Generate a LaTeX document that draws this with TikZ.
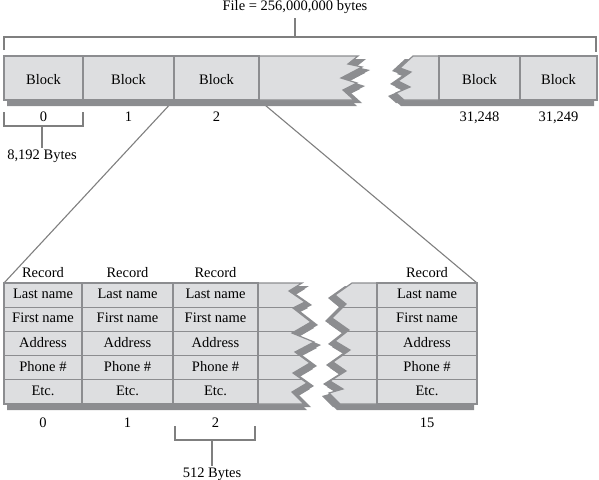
\documentclass[tikz,border=0pt]{standalone}
\usepackage{fontspec}
\setmainfont{Liberation Serif}
\usepackage{tikz}
\usetikzlibrary{positioning}

\definecolor{cellgray}{HTML}{DDDEE0}
\definecolor{edgegray}{HTML}{8C8D90}
\definecolor{linegray}{HTML}{7F7F7F}

% torn pieces of the file bar and of the block
\newcommand{\blockleft}{(4,56) -- (358,56) -- (348,64) -- (362,67) -- (341,78) -- (357,83) -- (343,90) -- (354,100) -- (4,100) -- cycle}
\newcommand{\blockright}{(413,56) -- (597,56) -- (597,100) -- (404,100) -- (396,93) -- (410,87) -- (398,81) -- (411,72) -- (400,68) -- cycle}
\newcommand{\recleft}{(4,283) -- (302,283) -- (289,291) -- (305,302) -- (293,308) -- (311,322) -- (292,333) -- (314,342) -- (295,352) -- (310,363) -- (293,373) -- (307,383) -- (292,392) -- (304,404) -- (4,404) -- cycle}
\newcommand{\recright}{(352,283) -- (477,283) -- (477,404) -- (340,404) -- (329,393) -- (343,389) -- (330,381) -- (346,371) -- (333,362) -- (350,350) -- (335,341) -- (349,330) -- (332,318) -- (346,304) -- (335,295) -- cycle}

\begin{document}
\begin{tikzpicture}[x=1pt, y=-1pt, font=\fontsize{14.5}{16}\selectfont,
  cell/.style={draw=edgegray, fill=cellgray, line width=1.2pt, inner sep=0pt, outer sep=0pt,
    text height=10pt, text depth=3pt},
  blk/.style={cell, anchor=north west, minimum height=44pt, text height=12.5pt, text depth=0pt},
  rec/.style={cell, minimum height=24.2pt},
  piece/.style={fill=cellgray, draw=edgegray, line width=1.2pt, line join=miter},
  tear/.style={fill=edgegray},
  lbl/.style={inner sep=1pt, text height=10pt, text depth=3pt},
  bracket/.style={draw=linegray, line width=1.3pt},
  link/.style={draw=linegray, line width=1.1pt}]
  \useasboundingbox (0,0) rectangle (599,479);

  % file size bracket
  \coordinate (ftop) at (295,18);
  \node[lbl, above=3pt of ftop] (file) {File = 256,000,000 bytes};
  \draw[bracket] (4,50) -- (4,37) -- (596,37) -- (596,52);
  \draw[bracket] (ftop) -- (295,37);

  % links from block 2 down to the records (drawn first, under the bar)
  \coordinate (recTL) at (4,283);
  \coordinate (recTR) at (477,283);
  \draw[link] (174,100) -- (recTL);
  \draw[link] (259,100) -- (recTR);

  % the file as a row of blocks
  \fill[tear, shift={(3,6)}] \blockleft;
  \fill[tear, shift={(8,3)}] \blockleft;
  \fill[tear, shift={(-3,6)}] \blockright;
  \fill[tear, shift={(-8,3)}] \blockright;
  \path[piece] \blockleft;
  \path[piece] \blockright;
  \node[blk, minimum width=79pt] (b0) at (4,56) {Block};
  \node[blk, minimum width=91pt] (b1) at (83,56) {Block};
  \node[blk, minimum width=85pt] (b2) at (174,56) {Block};
  \node[blk, minimum width=81pt] (b31248) at (439,56) {Block};
  \node[blk, minimum width=77pt] (b31249) at (520,56) {Block};

  \node[lbl, below=10pt of b0] (n0) {0};
  \node[lbl, below=10pt of b1] (n1) {1};
  \node[lbl, below=10pt of b2] (n2) {2};
  \node[lbl, below=10pt of b31248] (n31248) {31,248};
  \node[lbl, below=10pt of b31249] (n31249) {31,249};

  % block size bracket
  \draw[bracket] (4,112) -- (4,126) -- (83,126) -- (83,112);
  \node[lbl, anchor=north] (bytesA) at (42,148) {8,192 Bytes};
  \draw[bracket] (42,126) -- (bytesA.north);

  % records inside block 2
  \fill[tear, shift={(3,6)}] \recleft;
  \fill[tear, shift={(7,3)}] \recleft;
  \fill[tear, shift={(-3,6)}] \recright;
  \fill[tear, shift={(-7,3)}] \recright;
  \path[piece] \recleft;
  \path[piece] \recright;
  \begin{scope}
    \clip \recleft;
    \draw[edgegray, line width=1.2pt] (250,307.2) -- (330,307.2) (250,331.4) -- (330,331.4)
      (250,355.6) -- (330,355.6) (250,379.8) -- (330,379.8);
  \end{scope}
  \begin{scope}
    \clip \recright;
    \draw[edgegray, line width=1.2pt] (320,307.2) -- (380,307.2) (320,331.4) -- (380,331.4)
      (320,355.6) -- (380,355.6) (320,379.8) -- (380,379.8);
  \end{scope}

  % record 0
  \node[rec, anchor=north west, minimum width=78pt] (ln0) at (recTL) {Last name};
  \node[rec, minimum width=78pt, below=0pt of ln0] (fn0) {First name};
  \node[rec, minimum width=78pt, below=0pt of fn0] (ad0) {Address};
  \node[rec, minimum width=78pt, below=0pt of ad0] (ph0) {Phone \#};
  \node[rec, minimum width=78pt, below=0pt of ph0] (et0) {Etc.};
  % record 1
  \node[rec, anchor=north west, minimum width=91pt] (ln1) at (82,283) {Last name};
  \node[rec, minimum width=91pt, below=0pt of ln1] (fn1) {First name};
  \node[rec, minimum width=91pt, below=0pt of fn1] (ad1) {Address};
  \node[rec, minimum width=91pt, below=0pt of ad1] (ph1) {Phone \#};
  \node[rec, minimum width=91pt, below=0pt of ph1] (et1) {Etc.};
  % record 2
  \node[rec, anchor=north west, minimum width=85pt] (ln2) at (173,283) {Last name};
  \node[rec, minimum width=85pt, below=0pt of ln2] (fn2) {First name};
  \node[rec, minimum width=85pt, below=0pt of fn2] (ad2) {Address};
  \node[rec, minimum width=85pt, below=0pt of ad2] (ph2) {Phone \#};
  \node[rec, minimum width=85pt, below=0pt of ph2] (et2) {Etc.};
  % record 15
  \node[rec, anchor=north east, minimum width=100pt] (lnR) at (recTR) {Last name};
  \node[rec, minimum width=100pt, below=0pt of lnR] (fnR) {First name};
  \node[rec, minimum width=100pt, below=0pt of fnR] (adR) {Address};
  \node[rec, minimum width=100pt, below=0pt of adR] (phR) {Phone \#};
  \node[rec, minimum width=100pt, below=0pt of phR] (etR) {Etc.};

  \node[lbl, above=1pt of ln0] (r0) {Record};
  \node[lbl, above=1pt of ln1] (r1) {Record};
  \node[lbl, above=1pt of ln2] (r2) {Record};
  \node[lbl, above=1pt of lnR] (rR) {Record};

  \node[lbl, below=12pt of et0] (m0) {0};
  \node[lbl, below=12pt of et1] (m1) {1};
  \node[lbl, below=12pt of et2] (m2) {2};
  \node[lbl, below=12pt of etR] (m15) {15};

  % record size bracket
  \draw[bracket] (175,426) -- (175,440) -- (255,440) -- (255,426);
  \node[lbl, anchor=north] (bytesB) at (212,466) {512 Bytes};
  \draw[bracket] (212,440) -- (bytesB.north);
\end{tikzpicture}
\end{document}
